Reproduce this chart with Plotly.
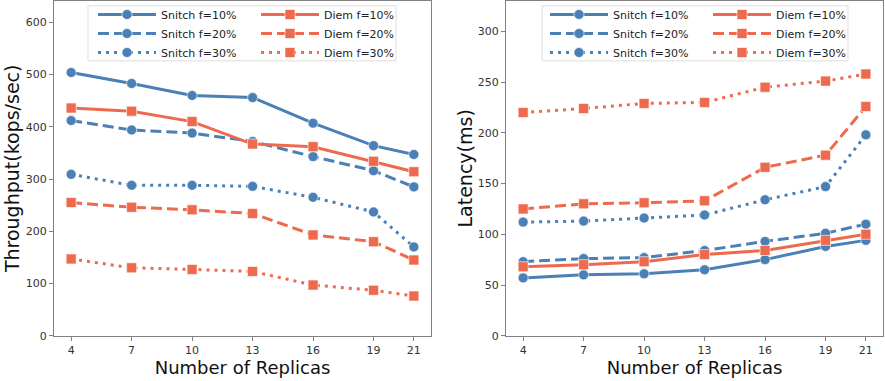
import plotly.graph_objects as go

replicas = [4, 7, 10, 13, 16, 19, 21]

tp_snitch_10 = [504, 483, 460, 456, 407, 364, 347]
tp_snitch_20 = [412, 394, 388, 372, 343, 316, 285]
tp_snitch_30 = [309, 288, 288, 286, 265, 237, 170]
tp_diem_10 = [436, 430, 410, 367, 362, 334, 314]
tp_diem_20 = [255, 246, 241, 234, 193, 180, 145]
tp_diem_30 = [147, 130, 127, 123, 97, 87, 76]

lat_snitch_10 = [57, 60, 61, 65, 75, 88, 94]
lat_snitch_20 = [73, 76, 77, 84, 93, 101, 110]
lat_snitch_30 = [112, 113, 116, 119, 134, 147, 198]
lat_diem_10 = [68, 70, 73, 80, 84, 94, 100]
lat_diem_20 = [125, 130, 131, 133, 166, 178, 226]
lat_diem_30 = [220, 224, 229, 230, 245, 251, 258]

series_names = ["Snitch f=10%", "Snitch f=20%", "Snitch f=30%",
                "Diem f=10%", "Diem f=20%", "Diem f=30%"]

BLUE = "#4A80B6"
RED = "#EE6A4E"
DASHES = ["solid", "11px,5px", "3px,5px"]
FONT = "DejaVu Sans"

fig = go.Figure()

def add(y, name, color, symbol, dash, xa, ya, legend):
    fig.add_trace(go.Scatter(
        x=replicas, y=y, name=name, mode="lines+markers",
        line=dict(color=color, width=3, dash=dash),
        marker=dict(symbol=symbol, size=10, color=color,
                    line=dict(color="rgba(255,255,255,0.6)", width=1)),
        xaxis=xa, yaxis=ya, legend=legend,
    ))

left_snitch = [tp_snitch_10, tp_snitch_20, tp_snitch_30]
left_diem = [tp_diem_10, tp_diem_20, tp_diem_30]
right_snitch = [lat_snitch_10, lat_snitch_20, lat_snitch_30]
right_diem = [lat_diem_10, lat_diem_20, lat_diem_30]

for i in range(3):
    add(left_snitch[i], series_names[i], BLUE, "circle", DASHES[i], "x", "y", "legend")
for i in range(3):
    add(left_diem[i], series_names[3 + i], RED, "square", DASHES[i], "x", "y", "legend2")
for i in range(3):
    add(right_snitch[i], series_names[i], BLUE, "circle", DASHES[i], "x2", "y2", "legend3")
for i in range(3):
    add(right_diem[i], series_names[3 + i], RED, "square", DASHES[i], "x2", "y2", "legend4")

axis_common = dict(
    showline=True, linecolor="#808080", linewidth=1, mirror=True,
    showgrid=False, zeroline=False, ticks="outside", ticklen=4,
    tickcolor="#808080", tickfont=dict(family=FONT, size=11, color="#333333"),
)

xcommon = dict(axis_common, tickvals=replicas, ticktext=[str(r) for r in replicas],
               range=[3.15, 21.85],
               title=dict(text="Number of Replicas",
                          font=dict(family=FONT, size=18, color="#111111"), standoff=2))

legend_common = dict(
    orientation="v", yanchor="top", xanchor="left",
    bgcolor="rgba(0,0,0,0)", borderwidth=0,
    font=dict(family=FONT, size=11, color="#222222"), y=1.0,
    itemwidth=58, tracegroupgap=0,
)

def legend_box(x0, x1):
    return dict(type="rect", xref="paper", yref="paper",
                x0=x0 / 885, x1=x1 / 885, y0=1 - 62 / 381, y1=1 - 6 / 381,
                line=dict(color="#dddddd", width=1), fillcolor="rgba(255,255,255,0.85)",
                layer="above")

fig.update_layout(
    width=885, height=381,
    margin=dict(l=0, r=0, t=0, b=0),
    paper_bgcolor="white", plot_bgcolor="white",
    xaxis=dict(xcommon, domain=[54/885, 431/885], anchor="y"),
    xaxis2=dict(xcommon, domain=[506/885, 883/885], anchor="y2"),
    yaxis=dict(axis_common, domain=[39/381, 380/381], range=[0, 641], anchor="x",
               tickvals=[0, 100, 200, 300, 400, 500, 600],
               title=dict(text="Throughput(kops/sec)",
                          font=dict(family=FONT, size=19, color="#111111"), standoff=1)),
    yaxis2=dict(axis_common, domain=[39/381, 380/381], range=[0, 330], anchor="x2",
                tickvals=[0, 50, 100, 150, 200, 250, 300],
                title=dict(text="Latency(ms)",
                           font=dict(family=FONT, size=19, color="#111111"), standoff=0)),
    legend=dict(legend_common, x=93/885),
    legend2=dict(legend_common, x=256/885),
    legend3=dict(legend_common, x=545/885),
    legend4=dict(legend_common, x=708/885),
    shapes=[legend_box(88, 396), legend_box(542, 848)],
    showlegend=True,
)

fig.write_html("out.html")
